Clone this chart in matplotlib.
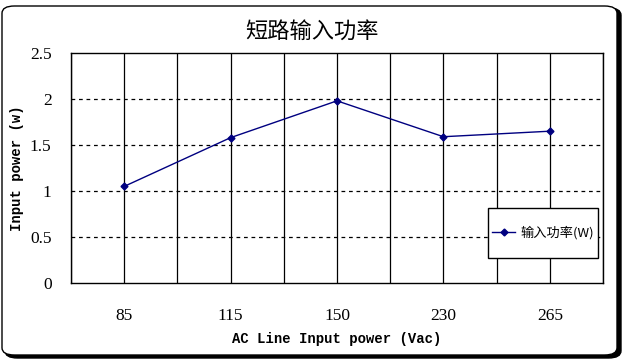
import matplotlib
matplotlib.use("Agg")
import matplotlib.pyplot as plt
from matplotlib.patches import FancyBboxPatch, Rectangle
from matplotlib.lines import Line2D

categories = ["85", "115", "150", "230", "265"]
power = [1.05, 1.58, 1.98, 1.59, 1.65]
yticks = [0, 0.5, 1, 1.5, 2, 2.5]
ytick_labels = ["0", "0.5", "1", "1.5", "2", "2.5"]

W, H = 624, 361
fig = plt.figure(figsize=(W / 100, H / 100), dpi=100)

# outer rounded frame with shadow
shadow = FancyBboxPatch((5 / W, 3 / H), 616 / W, 350 / H,
                        boxstyle="round,pad=0,rounding_size=0.02",
                        transform=fig.transFigure, facecolor="black",
                        edgecolor="black", lw=1, zorder=0)
frame = FancyBboxPatch((2 / W, 6 / H), 615 / W, 349 / H,
                       boxstyle="round,pad=0,rounding_size=0.02",
                       transform=fig.transFigure, facecolor="white",
                       edgecolor="black", lw=1, zorder=0.5)
fig.patches.extend([shadow, frame])

AX_L, AX_B, AX_W, AX_H = 71, 78, 532, 230
ax = fig.add_axes([AX_L / W, AX_B / H, AX_W / W, AX_H / H])
ax.set_zorder(2)
ax.patch.set_facecolor("white")
x = list(range(len(categories)))
ax.set_xlim(-0.5, len(categories) - 0.5)
ax.set_ylim(0, 2.5)

# gridlines
for gx in [i * 0.5 - 0.5 for i in range(2 * len(categories) + 1)]:
    ax.axvline(gx, color="black", lw=0.9, zorder=1)
for gy in yticks[1:-1]:
    ax.axhline(gy, color="black", lw=0.9, ls=(0, (3, 3)), zorder=1)

ax.plot(x, power, color="#000080", lw=1, marker="D", ms=3.5,
        markerfacecolor="#000080", markeredgecolor="#000080", zorder=3,
        label="输入功率(W)")

for s in ax.spines.values():
    s.set_color("black")
    s.set_linewidth(1)

ax.set_xticks(x)
ax.set_xticklabels(categories, family="Liberation Serif", fontsize=12.5)
ax.set_yticks(yticks)
ax.set_yticklabels(ytick_labels, family="Liberation Serif", fontsize=12.5)
ax.tick_params(axis="both", length=0)
ax.tick_params(axis="x", pad=18)
ax.tick_params(axis="y", pad=14)

ax.set_xlabel("AC Line Input power (Vac)", family="Liberation Mono",
              fontweight="bold", fontsize=10, labelpad=6)
ax.set_ylabel("Input power (w)", family="Liberation Mono",
              fontweight="bold", fontsize=10, labelpad=4)

fig.text(0.5, 1 - 31 / H, "短路输入功率", ha="center", va="center",
         family=["Noto Sans CJK SC", "DejaVu Sans"], fontsize=16)

# legend box (pixel layout converted to axes fraction)
bx0, bx1, by_top, by_bot = 488, 598, 208, 258
H_TOP = H - AX_B - AX_H  # pixel y of axes top
box = Rectangle(((bx0 - AX_L) / AX_W, (H - AX_B - by_bot) / AX_H),
                (bx1 - bx0) / AX_W, (by_bot - by_top) / AX_H,
                transform=ax.transAxes, facecolor="white", edgecolor="black",
                lw=1, zorder=4, clip_on=False)
ax.add_patch(box)
handle = Line2D([], [], color="#000080", lw=1, marker="D", ms=3.5)
leg = ax.legend([handle], ["输入功率(W)"], loc="center",
                bbox_to_anchor=(((bx0 + bx1) / 2 - AX_L) / AX_W,
                                (H - AX_B - (by_top + by_bot) / 2) / AX_H),
                prop={"family": ["Noto Sans CJK SC", "DejaVu Sans"], "size": 9.5},
                frameon=False, handlelength=1.8, handletextpad=0.4,
                borderpad=0, borderaxespad=0)
leg.set_zorder(5)

fig.savefig("out.png", dpi=100)
